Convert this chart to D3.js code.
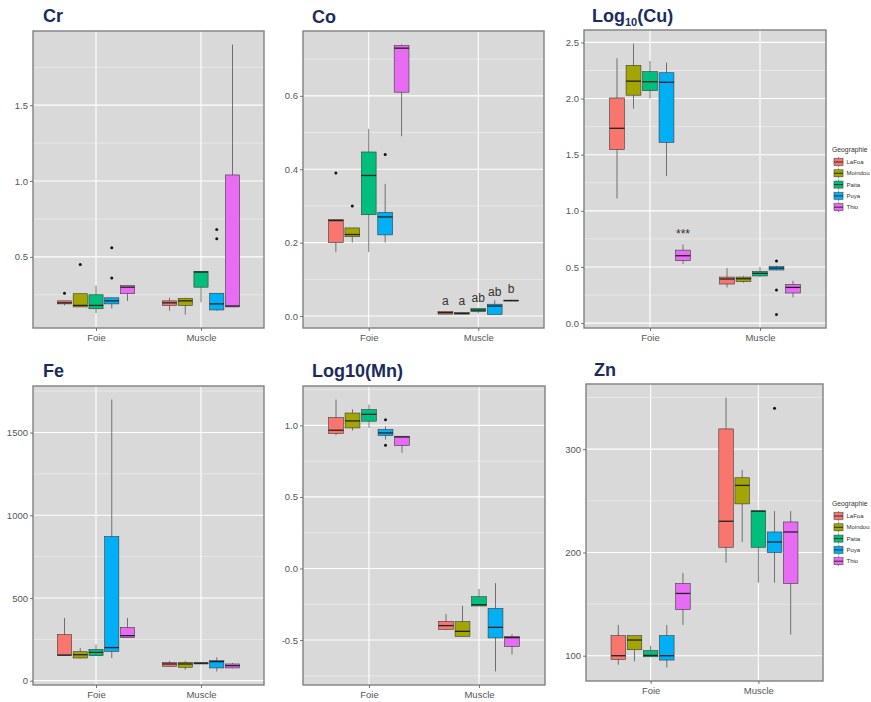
<!DOCTYPE html>
<html>
<head>
<meta charset="utf-8">
<script src="https://cdn.jsdelivr.net/npm/d3@7"></script>
<style>
  html, body { margin: 0; padding: 0; background: #ffffff; }
  svg { display: block; }
  .tick text { font-family: "Liberation Sans", Arial, sans-serif; }
</style>
</head>
<body>
<svg id="chart" width="871" height="702"></svg>
<script>
// Categories and groups
const tissues = ["Foie", "Muscle"];
const sites = ["LaFoa", "Moindou", "Paita", "Poya", "Thio"];
const siteColors = ["#F8766D", "#A3A500", "#00BF7D", "#00B0F6", "#E76BF3"];

// Five-number summaries per site: [lower whisker, Q1, median, Q3, upper whisker]
const crFoie   = [[0.18, 0.19, 0.197, 0.21, 0.21], [0.17, 0.17, 0.18, 0.257, 0.257], [0.13, 0.158, 0.18, 0.25, 0.31], [0.16, 0.19, 0.21, 0.23, 0.23], [0.21, 0.257, 0.30, 0.31, 0.31]];
const crMuscle = [[0.145, 0.18, 0.197, 0.21, 0.23], [0.12, 0.18, 0.21, 0.226, 0.23], [0.20, 0.30, 0.40, 0.403, 0.403], [0.145, 0.15, 0.19, 0.26, 0.26], [0.17, 0.17, 0.176, 1.04, 1.9]];
const crOutliers = [["Foie", "LaFoa", 0.26], ["Foie", "Moindou", 0.45], ["Foie", "Poya", 0.56], ["Foie", "Poya", 0.36], ["Muscle", "Poya", 0.68], ["Muscle", "Poya", 0.62]];

const coFoie   = [[0.174, 0.20, 0.26, 0.263, 0.263], [0.20, 0.216, 0.222, 0.24, 0.24], [0.174, 0.276, 0.383, 0.447, 0.51], [0.20, 0.221, 0.27, 0.282, 0.36], [0.49, 0.61, 0.73, 0.737, 0.74]];
const coMuscle = [[0.005, 0.005, 0.009, 0.012, 0.012], [0.005, 0.005, 0.007, 0.009, 0.009], [0.007, 0.012, 0.016, 0.02, 0.02], [0.004, 0.004, 0.027, 0.032, 0.043], [0.04, 0.041, 0.042, 0.043, 0.044]];
const coOutliers = [["Foie", "LaFoa", 0.39], ["Foie", "Moindou", 0.30], ["Foie", "Poya", 0.44]];
const coLetters = ["a", "a", "ab", "ab", "b"];
const coLetterPos = [0.04, 0.04, 0.05, 0.066, 0.074];

const cuFoie   = [[1.11, 1.545, 1.735, 2.005, 2.36], [1.91, 2.03, 2.155, 2.295, 2.49], [2.0, 2.07, 2.15, 2.24, 2.335], [1.31, 1.61, 2.145, 2.23, 2.32], [0.527, 0.556, 0.60, 0.65, 0.70]];
const cuMuscle = [[0.318, 0.348, 0.393, 0.41, 0.49], [0.36, 0.369, 0.395, 0.41, 0.42], [0.41, 0.42, 0.443, 0.46, 0.50], [0.47, 0.473, 0.49, 0.503, 0.51], [0.229, 0.268, 0.318, 0.345, 0.378]];
const cuOutliers = [["Muscle", "Poya", 0.553], ["Muscle", "Poya", 0.295], ["Muscle", "Poya", 0.077]];

const feFoie   = [[150, 151, 155, 278, 379], [135, 137, 157, 175, 198], [150, 151, 171, 189, 218], [137, 177, 200, 871, 1699], [260, 260, 272, 322, 379]];
const feMuscle = [[85, 87, 101, 109, 119], [66, 81, 101, 111, 120], [101, 101, 105, 110, 112], [56, 77, 115, 121, 141], [75, 77, 91, 101, 107]];
const feOutliers = [];

const mnFoie   = [[0.931, 0.943, 0.966, 1.054, 1.18], [0.964, 0.982, 1.031, 1.086, 1.112], [0.982, 1.029, 1.077, 1.11, 1.145], [0.901, 0.929, 0.947, 0.971, 0.994], [0.808, 0.859, 0.919, 0.924, 0.924]];
const mnMuscle = [[-0.43, -0.425, -0.399, -0.369, -0.318], [-0.474, -0.474, -0.439, -0.371, -0.26], [-0.262, -0.262, -0.253, -0.197, -0.143], [-0.719, -0.485, -0.411, -0.279, -0.102], [-0.601, -0.545, -0.483, -0.474, -0.46]];
const mnOutliers = [["Foie", "Poya", 1.04], ["Foie", "Poya", 0.861]];

const znFoie   = [[91.3, 96.4, 100, 119.4, 129.8], [94.5, 105.8, 115.2, 119.4, 119.4], [99, 99, 100.3, 104.9, 109.7], [88.6, 95.8, 100, 119.4, 129.8], [129.8, 144.7, 160.3, 170, 180]];
const znMuscle = [[190, 205, 230.2, 319.6, 350], [210.1, 247, 264.9, 272.3, 279.8], [170.7, 205, 240, 240.2, 240.2], [170.7, 199.8, 210.1, 219.8, 240], [120.4, 170, 219.8, 229.5, 240]];
const znOutliers = [["Muscle", "Poya", 339.7]];

// Axis ticks
const crTicks = [0.5, 1.0, 1.5];
const coTicks = [0.0, 0.2, 0.4, 0.6];
const cuTicks = [0.0, 0.5, 1.0, 1.5, 2.0, 2.5];
const feTicks = [0, 500, 1000, 1500];
const mnTicks = [-0.5, 0.0, 0.5, 1.0];
const znTicks = [100, 200, 300];

const legendTitle = "Geographie";

const svg = d3.select("#chart");
const TITLE_COLOR = "#1b2b5e";
const fmt1 = v => d3.format(".1f")(v).replace("\u2212", "-");
const fmt0 = v => d3.format("d")(v).replace("\u2212", "-");

function buildRows(foie, muscle) {
  const rows = [];
  [foie, muscle].forEach((arr, ti) => {
    arr.forEach((s, si) => rows.push({
      tissue: tissues[ti], site: sites[si], color: siteColors[si],
      lo: s[0], q1: s[1], med: s[2], q3: s[3], hi: s[4]
    }));
  });
  return rows;
}

function drawPanel(cfg) {
  const rows = buildRows(cfg.foie, cfg.muscle);
  const g = svg.append("g");

  const x = d3.scalePoint().domain(tissues).range([cfg.x0, cfg.x1]).padding(0.6);
  const step = x.step();
  const dodge = d3.scaleBand().domain(sites)
    .range([-0.375 * step, 0.375 * step]).paddingInner(0.1).paddingOuter(0.05);

  const all = rows.flatMap(r => [r.lo, r.hi]).concat(cfg.outliers.map(o => o[2]));
  const mn = d3.min(all), mx = d3.max(all), span = mx - mn;
  const y = d3.scaleLinear().domain([mn - 0.05 * span, mx + 0.05 * span]).range([cfg.y1, cfg.y0]);

  // panel background
  g.append("rect").attr("x", cfg.x0).attr("y", cfg.y0)
    .attr("width", cfg.x1 - cfg.x0).attr("height", cfg.y1 - cfg.y0)
    .attr("fill", "#d9d9d9");

  // minor horizontal grid lines (half way between majors)
  const tk = cfg.ticks, d = tk[1] - tk[0];
  const minors = [];
  for (let v = tk[0] - d / 2; v <= y.domain()[1]; v += d) {
    if (v >= y.domain()[0]) minors.push(v);
  }
  g.selectAll(".minor").data(minors).join("line")
    .attr("x1", cfg.x0).attr("x2", cfg.x1)
    .attr("y1", v => y(v)).attr("y2", v => y(v))
    .attr("stroke", "#f2f2f2").attr("stroke-width", 0.6);
  g.selectAll(".major").data(tk).join("line")
    .attr("x1", cfg.x0).attr("x2", cfg.x1)
    .attr("y1", v => y(v)).attr("y2", v => y(v))
    .attr("stroke", "#ffffff").attr("stroke-width", 1.1);
  g.selectAll(".vmajor").data(tissues).join("line")
    .attr("x1", t => x(t)).attr("x2", t => x(t))
    .attr("y1", cfg.y0).attr("y2", cfg.y1)
    .attr("stroke", "#ffffff").attr("stroke-width", 1.1);

  const cx = r => x(r.tissue) + dodge(r.site) + dodge.bandwidth() / 2;
  const bw = dodge.bandwidth();

  // whiskers
  g.selectAll(".wh").data(rows).join("line")
    .attr("x1", cx).attr("x2", cx)
    .attr("y1", r => y(r.hi)).attr("y2", r => y(r.lo))
    .attr("stroke", "#555555").attr("stroke-width", 0.8);
  // boxes
  g.selectAll(".bx").data(rows).join("rect")
    .attr("x", r => cx(r) - bw / 2).attr("width", bw)
    .attr("y", r => y(r.q3)).attr("height", r => Math.max(0.8, y(r.q1) - y(r.q3)))
    .attr("fill", r => r.color).attr("stroke", "#3a3a3a").attr("stroke-width", 0.6);
  // medians
  g.selectAll(".md").data(rows).join("line")
    .attr("x1", r => cx(r) - bw / 2).attr("x2", r => cx(r) + bw / 2)
    .attr("y1", r => y(r.med)).attr("y2", r => y(r.med))
    .attr("stroke", "#222222").attr("stroke-width", 1.3);
  // outliers
  g.selectAll(".ol").data(cfg.outliers).join("circle")
    .attr("cx", o => x(o[0]) + dodge(o[1]) + bw / 2)
    .attr("cy", o => y(o[2])).attr("r", 1.5).attr("fill", "#111111");

  if (cfg.extra) cfg.extra(g, x, dodge, y);

  // panel border
  g.append("rect").attr("x", cfg.x0).attr("y", cfg.y0)
    .attr("width", cfg.x1 - cfg.x0).attr("height", cfg.y1 - cfg.y0)
    .attr("fill", "none").attr("stroke", "#808080").attr("stroke-width", 1.4);

  // axes
  const ya = g.append("g").attr("transform", `translate(${cfg.x0},0)`)
    .call(d3.axisLeft(y).tickValues(cfg.ticks).tickFormat(cfg.fmt).tickSize(3).tickPadding(2));
  const xa = g.append("g").attr("transform", `translate(0,${cfg.y1})`)
    .call(d3.axisBottom(x).tickSize(3).tickPadding(3));
  [ya, xa].forEach(a => {
    a.select(".domain").remove();
    a.selectAll(".tick line").attr("stroke", "#555555").attr("stroke-width", 0.8);
    a.selectAll(".tick text").attr("fill", "#555555").attr("font-size", 9.5);
  });

  // title
  const t = svg.append("text").attr("x", cfg.tx).attr("y", cfg.ty)
    .attr("font-family", "'Liberation Sans', Arial, sans-serif")
    .attr("font-weight", "bold").attr("font-size", 18).attr("fill", TITLE_COLOR);
  cfg.title.forEach(part => {
    const s = t.append("tspan").text(part.text);
    if (part.sub) s.attr("font-size", 11).attr("dy", 4);
    else if (part.after) s.attr("dy", -4);
  });

  if (cfg.legend) drawLegend(cfg.legend);
}

function drawLegend(pos) {
  const lg = svg.append("g").attr("font-family", "'Liberation Sans', Arial, sans-serif");
  lg.append("text").attr("x", pos.x).attr("y", pos.y).attr("dy", "0.35em")
    .attr("font-size", 6.8).attr("fill", "#333333").text(legendTitle);
  const items = lg.selectAll(".key").data(sites).join("g")
    .attr("transform", (s, i) => `translate(${pos.x + 1},${pos.y + 12 + i * 11.3})`);
  items.append("rect").attr("x", 0).attr("y", -5).attr("width", 11).attr("height", 10).attr("fill", "#f2f2f2");
  items.append("line").attr("x1", 5.5).attr("x2", 5.5).attr("y1", -5).attr("y2", 5)
    .attr("stroke", "#555555").attr("stroke-width", 0.6);
  items.append("rect").attr("x", 1).attr("y", -3.5).attr("width", 9).attr("height", 7)
    .attr("fill", (s, i) => siteColors[i]).attr("stroke", "#3a3a3a").attr("stroke-width", 0.5);
  items.append("line").attr("x1", 1).attr("x2", 10).attr("y1", 0).attr("y2", 0)
    .attr("stroke", "#222222").attr("stroke-width", 0.9);
  items.append("text").attr("x", 13.5).attr("y", 0).attr("dy", "0.35em")
    .attr("font-size", 6).attr("fill", "#333333").text(s => s);
}

drawPanel({ foie: crFoie, muscle: crMuscle, outliers: crOutliers, ticks: crTicks, fmt: fmt1,
  x0: 33, x1: 264, y0: 31, y1: 328, tx: 43, ty: 22, title: [{ text: "Cr" }] });

drawPanel({ foie: coFoie, muscle: coMuscle, outliers: coOutliers, ticks: coTicks, fmt: fmt1,
  x0: 303, x1: 544, y0: 31, y1: 328, tx: 312, ty: 23, title: [{ text: "Co" }],
  extra: (g, x, dodge, y) => {
    g.selectAll(".sig").data(sites).join("text")
      .attr("x", s => x("Muscle") + dodge(s) + dodge.bandwidth() / 2)
      .attr("y", (s, i) => y(coLetterPos[i])).attr("dy", "0.35em")
      .attr("text-anchor", "middle").attr("font-family", "'Liberation Sans', Arial, sans-serif")
      .attr("font-size", 12).attr("fill", "#333333").text((s, i) => coLetters[i]);
  } });

drawPanel({ foie: cuFoie, muscle: cuMuscle, outliers: cuOutliers, ticks: cuTicks, fmt: fmt1,
  x0: 584, x1: 826, y0: 30, y1: 328, tx: 592, ty: 22,
  title: [{ text: "Log" }, { text: "10", sub: true }, { text: "(Cu)", after: true }],
  legend: { x: 832, y: 150 },
  extra: (g, x, dodge, y) => {
    g.append("text")
      .attr("x", x("Foie") + dodge("Thio") + dodge.bandwidth() / 2)
      .attr("y", y(0.76)).attr("text-anchor", "middle")
      .attr("font-family", "'Liberation Sans', Arial, sans-serif")
      .attr("font-size", 12).attr("fill", "#333333").text("***");
  } });

drawPanel({ foie: feFoie, muscle: feMuscle, outliers: feOutliers, ticks: feTicks, fmt: fmt0,
  x0: 33, x1: 264, y0: 386, y1: 685, tx: 43, ty: 377, title: [{ text: "Fe" }] });

drawPanel({ foie: mnFoie, muscle: mnMuscle, outliers: mnOutliers, ticks: mnTicks, fmt: fmt1,
  x0: 303, x1: 545, y0: 386, y1: 685, tx: 312, ty: 377, title: [{ text: "Log10(Mn)" }] });

drawPanel({ foie: znFoie, muscle: znMuscle, outliers: znOutliers, ticks: znTicks, fmt: fmt0,
  x0: 586, x1: 823, y0: 384, y1: 681, tx: 594, ty: 376, title: [{ text: "Zn" }],
  legend: { x: 832, y: 504 } });
</script>
</body>
</html>
